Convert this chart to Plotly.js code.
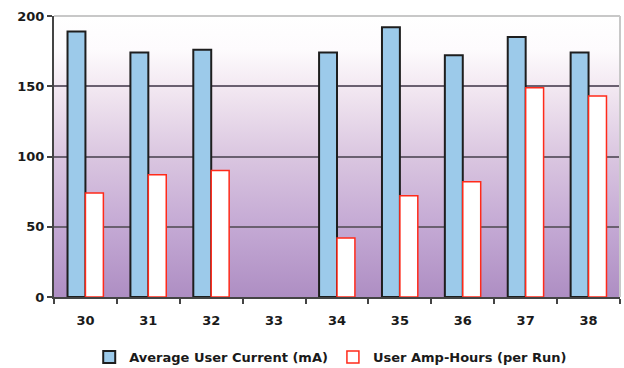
<!DOCTYPE html>
<html>
<head>
<meta charset="utf-8">
<script src="https://cdn.plot.ly/plotly-3.0.1.min.js"></script>
<style>html,body{margin:0;padding:0;background:#fff;}#chart{width:624px;height:368px;}</style>
</head>
<body>
<div id="chart"></div>
<script>
const categories = ["30","31","32","33","34","35","36","37","38"];
const avgCurrent = [189, 174, 176, null, 174, 192, 172, 185, 174];
const ampHours = [74, 87, 90, null, 42, 72, 82, 149, 143];
const seriesNames = ["Average User Current (mA)", "User Amp-Hours (per Run)"];
const yTicks = [0, 50, 100, 150, 200];

const gradSvg = '<svg xmlns="http://www.w3.org/2000/svg" width="10" height="100" preserveAspectRatio="none">' +
  '<defs><linearGradient id="g" x1="0" y1="0" x2="0" y2="1">' +
  '<stop offset="0" stop-color="#ffffff"/>' +
  '<stop offset="0.12" stop-color="#fdfbfd"/>' +
  '<stop offset="0.25" stop-color="#f3e9f2"/>' +
  '<stop offset="0.5" stop-color="#dac6e0"/>' +
  '<stop offset="0.75" stop-color="#c4a9d4"/>' +
  '<stop offset="1" stop-color="#ae8ec3"/>' +
  '</linearGradient></defs><rect width="10" height="100" fill="url(#g)"/></svg>';
const gradUri = 'data:image/svg+xml;base64,' + btoa(gradSvg);

const traces = [
  {type: 'bar', x: categories, y: avgCurrent, name: seriesNames[0],
   marker: {color: '#9ccaea', line: {color: '#1e1e1e', width: 2}}},
  {type: 'bar', x: categories, y: ampHours, name: seriesNames[1],
   marker: {color: '#ffffff', line: {color: '#ff2a1a', width: 1.5}}}
];

const layout = {
  width: 624, height: 368,
  margin: {l: 54, r: 4, t: 16, b: 71, autoexpand: false},
  paper_bgcolor: '#ffffff',
  plot_bgcolor: 'rgba(0,0,0,0)',
  barmode: 'group',
  bargap: 0.43,
  bargroupgap: 0,
  font: {family: 'DejaVu Sans, Verdana, sans-serif', color: '#1a1a1a'},
  showlegend: true,
  legend: {orientation: 'h', x: 0.53, xanchor: 'center', xref: 'container',
           y: 0.03, yanchor: 'middle', yref: 'container',
           font: {size: 13, family: 'DejaVu Sans, Verdana, sans-serif', weight: 'bold', color: '#1a1a1a'},
           tracegroupgap: 0, itemwidth: 30},
  xaxis: {type: 'category', tickvals: categories,
          showline: true, linecolor: '#444', linewidth: 2,
          ticks: 'outside', tickson: 'boundaries', ticklen: 5, tickcolor: '#444', tickwidth: 2,
          ticklabelstandoff: 10,
          tickfont: {size: 13, weight: 'bold'}, showgrid: false, zeroline: false},
  yaxis: {range: [0, 200], tickvals: yTicks,
          showline: true, linecolor: '#444', linewidth: 2,
          ticks: 'outside', ticklen: 5, tickcolor: '#444', tickwidth: 2,
          tickfont: {size: 13, weight: 'bold'},
          showgrid: true, gridcolor: '#6a6070', gridwidth: 2, zeroline: false},
  images: [{source: gradUri, xref: 'paper', yref: 'paper', x: 0, y: 1, sizex: 1, sizey: 1,
            xanchor: 'left', yanchor: 'top', sizing: 'stretch', layer: 'below'}],
  shapes: [
    {type: 'line', xref: 'paper', yref: 'paper', x0: 0, x1: 1, y0: 1, y1: 1,
     line: {color: '#c8c8c8', width: 2}, layer: 'above'},
    {type: 'line', xref: 'paper', yref: 'paper', x0: 1, x1: 1, y0: 0, y1: 1,
     line: {color: '#c8c8c8', width: 2}, layer: 'above'}
  ]
};

Plotly.newPlot('chart', traces, layout, {displayModeBar: false, staticPlot: true});
</script>
</body>
</html>
